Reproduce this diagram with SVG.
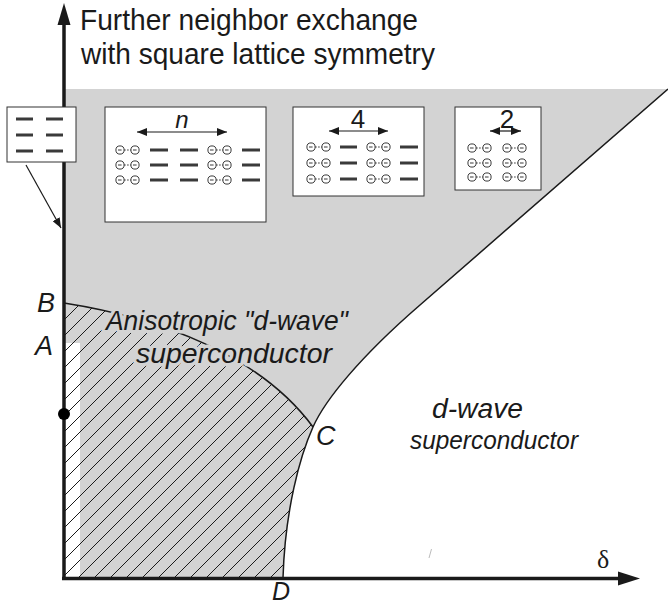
<svg xmlns="http://www.w3.org/2000/svg" width="668" height="607" viewBox="0 0 668 607">
<defs>
<style>
.lbl{font-family:"Liberation Sans",Arial,sans-serif;fill:#1a1a1a}
.it{font-style:italic}
.knock{paint-order:stroke;stroke:#d3d3d3;stroke-width:7;stroke-linejoin:round}
.box{fill:#fff;stroke:#333;stroke-width:1}
.dash{stroke:#3a3a3a;stroke-width:3}
.bnd{fill:none;stroke:#1a1a1a;stroke-width:1.5}
.thin{stroke:#1a1a1a;stroke-width:1.2;fill:none}
</style>
<pattern id="hatch" patternUnits="userSpaceOnUse" width="16" height="16">
<path d="M-4,4 L4,-4 M0,16 L16,0 M12,20 L20,12" stroke="#1a1a1a" stroke-width="1"/>
</pattern>
<g id="pair">
<circle cx="0" cy="0" r="4.1" fill="none" stroke="#222" stroke-width="0.9"/>
<circle cx="15" cy="0" r="4.1" fill="none" stroke="#222" stroke-width="0.9"/>
<path d="M-2,0 H1.6 M13,0 H16.6" stroke="#222" stroke-width="0.9"/>
<path d="M4.1,0 H10.9" stroke="#222" stroke-width="0.9" stroke-dasharray="1.6,1.4"/>
</g>
<marker id="ah" markerWidth="10" markerHeight="8" refX="10" refY="4" orient="auto" markerUnits="userSpaceOnUse">
<path d="M0,0 L10,4 L0,8 Z" fill="#1a1a1a"/>
</marker>
<marker id="ahs" markerWidth="10" markerHeight="8" refX="0" refY="4" orient="auto" markerUnits="userSpaceOnUse">
<path d="M10,0 L0,4 L10,8 Z" fill="#1a1a1a"/>
</marker>
</defs>
<rect width="668" height="607" fill="#fff"/>

<g id="regions">
<path id="gray-region" d="M64,89 L668,89 L420,305 C360,357 325,400 313,427 C300,456 285,510 283,578 L64,578 Z" fill="#d3d3d3"/>
<rect id="white-strip" x="64" y="343" width="16" height="235" fill="#fff"/>
<path id="hatched-region" d="M64,303 C160,318 260,355 313,427 C300,456 285,510 283,578 L64,578 Z" fill="url(#hatch)"/>
<path id="boundary-BC" class="bnd" d="M64,303 C160,318 260,355 313,427" stroke-width="1.3"/>
<path id="phase-boundary" class="bnd" d="M668,89 L420,305 C360,357 325,400 313,427 C300,456 285,510 283,578"/>
<line x1="429" y1="558" x2="431.5" y2="549" stroke="#aaa" stroke-width="0.8"/>
</g>

<g id="axes">
<line x1="64" y1="580" x2="64" y2="22" stroke="#1a1a1a" stroke-width="3.5"/>
<path d="M64,3 L70.5,25 L57.5,25 Z" fill="#1a1a1a"/>
<line x1="62" y1="578.5" x2="620" y2="578.5" stroke="#1a1a1a" stroke-width="3.5"/>
<path d="M640,578.5 L618,571.5 L618,585.5 Z" fill="#1a1a1a"/>
<circle cx="64" cy="414" r="6" fill="#000"/>
</g>

<g id="title">
<text class="lbl" x="80" y="30" font-size="29.5" textLength="338" lengthAdjust="spacingAndGlyphs">Further neighbor exchange</text>
<text class="lbl" x="81" y="64" font-size="29.5" textLength="354" lengthAdjust="spacingAndGlyphs">with square lattice symmetry</text>
</g>

<g id="labels">
<text class="lbl it" x="37" y="312" font-size="27">B</text>
<text class="lbl it" x="35" y="355" font-size="27">A</text>
<text class="lbl it" x="316" y="445" font-size="27">C</text>
<text class="lbl it" x="272" y="600" font-size="25">D</text>
<text x="597" y="568" font-size="26" font-family="'Liberation Serif','Times New Roman',serif" fill="#1a1a1a">δ</text>
</g>

<g id="anisotropic-label">
<text class="lbl it knock" x="106" y="330" font-size="28" textLength="242" lengthAdjust="spacingAndGlyphs">Anisotropic "d-wave"</text>
<text class="lbl it knock" x="136" y="363" font-size="28" textLength="196" lengthAdjust="spacingAndGlyphs">superconductor</text>
</g>

<g id="dwave-label">
<text class="lbl it" x="432" y="418" font-size="27" textLength="91" lengthAdjust="spacingAndGlyphs">d-wave</text>
<text class="lbl it" x="410" y="449" font-size="26.5" textLength="168" lengthAdjust="spacingAndGlyphs">superconductor</text>
</g>

<g id="inset-n">
<rect class="box" x="105" y="107" width="161" height="115"/>
<line class="thin" x1="137" y1="132" x2="227" y2="132" marker-start="url(#ahs)" marker-end="url(#ah)"/>
<text class="lbl it" x="182" y="128" font-size="24" text-anchor="middle">n</text>
<use href="#pair" x="120" y="150"/><use href="#pair" x="212" y="150"/>
<use href="#pair" x="120" y="165"/><use href="#pair" x="212" y="165"/>
<use href="#pair" x="120" y="180"/><use href="#pair" x="212" y="180"/>
<path class="dash" d="M150,150 H168 M180,150 H198 M242,150 H260 M150,165 H168 M180,165 H198 M242,165 H260 M150,180 H168 M180,180 H198 M242,180 H260"/>
</g>

<g id="inset-4">
<rect class="box" x="293" y="107" width="131" height="89"/>
<line class="thin" x1="329" y1="131" x2="388" y2="131" marker-start="url(#ahs)" marker-end="url(#ah)"/>
<text class="lbl" x="358" y="128" font-size="26" text-anchor="middle">4</text>
<use href="#pair" x="311" y="147"/><use href="#pair" x="371" y="147"/>
<use href="#pair" x="311" y="163"/><use href="#pair" x="371" y="163"/>
<use href="#pair" x="311" y="179"/><use href="#pair" x="371" y="179"/>
<path class="dash" d="M340,147 H357 M400,147 H418 M340,163 H357 M400,163 H418 M340,179 H357 M400,179 H418"/>
</g>

<g id="inset-2">
<rect class="box" x="455" y="107" width="86" height="83"/>
<line class="thin" x1="490" y1="131" x2="521" y2="131" marker-start="url(#ahs)" marker-end="url(#ah)"/>
<text class="lbl" x="507" y="128" font-size="26" text-anchor="middle">2</text>
<use href="#pair" x="472" y="148"/><use href="#pair" x="507" y="148"/>
<use href="#pair" x="472" y="163"/><use href="#pair" x="507" y="163"/>
<use href="#pair" x="472" y="177"/><use href="#pair" x="507" y="177"/>
</g>

<g id="legend-box">
<rect class="box" x="7" y="107" width="69" height="55"/>
<path class="dash" d="M16,119 H33 M46,119 H63 M16,135 H33 M46,135 H63 M16,151 H33 M46,151 H63"/>
</g>

<g id="connectors">
<line x1="26" y1="165" x2="61" y2="228" stroke="#1a1a1a" stroke-width="1.2" marker-end="url(#ah)"/>
</g>
</svg>
